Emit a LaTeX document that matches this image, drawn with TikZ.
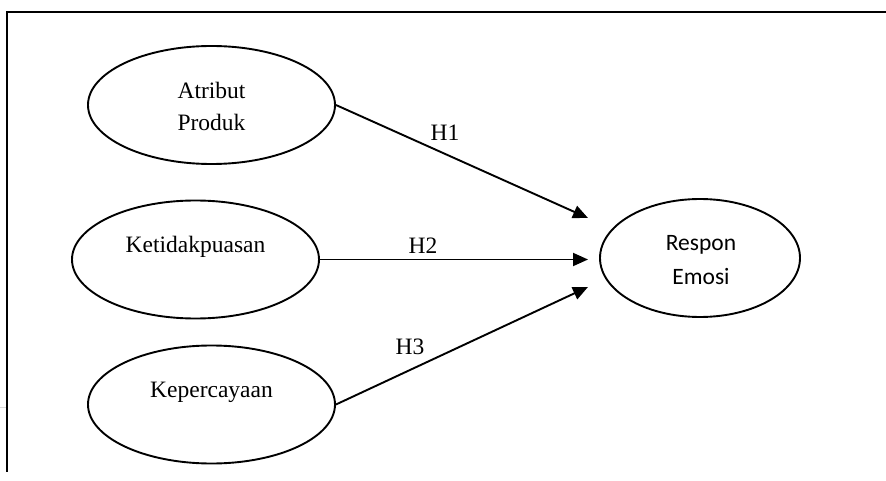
\documentclass[tikz,border=0pt]{standalone}
\usepackage{fontspec}
\setmainfont{Liberation Serif}
\newfontfamily\calibrifont{Carlito}
\usetikzlibrary{shapes.geometric,arrows.meta}
\begin{document}
\begin{tikzpicture}[x=1pt,y=-1pt,
  ell/.style={draw,ellipse,line width=1.9pt,inner sep=0pt,minimum width=247pt,minimum height=118pt},
  lbl/.style={font=\fontsize{23.5}{32}\selectfont,inner sep=0pt,align=center},
  sanslbl/.style={font=\calibrifont\fontsize{23.5}{34}\selectfont,inner sep=0pt,align=center},
  conn/.style={line width=1.9pt,-{Triangle[length=15pt,width=13pt]}},
  frameline/.style={line width=2pt}]
\useasboundingbox (0,0) rectangle (886,481);
% frame
\coordinate (ftl) at (7,12);
\coordinate (ftr) at (886,12);
\coordinate (fbl) at (7,472);
\draw[frameline] (ftr) -- (ftl) -- (fbl);
\coordinate (g1) at (0,407);
\coordinate (g2) at (6,407);
\draw[black!15,line width=1pt] (g1) -- (g2);
% ellipses
\node[ell] (a) at (211.5,105) {};
\node[ell] (k) at (195.5,259.5) {};
\node[ell] (p) at (211.5,404.5) {};
\node[ell,minimum width=200pt] (r) at (700,258) {};
% texts
\node[lbl] (ta) at (211.5,106) {Atribut\\Produk};
\node[lbl] (tk) at (195.5,247) {Ketidakpuasan};
\node[lbl] (tp) at (211.5,392) {Kepercayaan};
\node[sanslbl] (tr) at (701,260) {Respon\\Emosi};
% arrow tips
\coordinate (e1) at (588,218);
\coordinate (e2) at (588,259.5);
\coordinate (e3) at (588,287);
\draw[conn] (a.east) -- (e1);
\draw[conn] (k.east) -- (e2);
\draw[conn] (p.east) -- (e3);
% labels
\node[lbl] (h1) at (445,133) {H1};
\node[lbl] (h2) at (423,246) {H2};
\node[lbl] (h3) at (410,347) {H3};
\end{tikzpicture}
\end{document}
